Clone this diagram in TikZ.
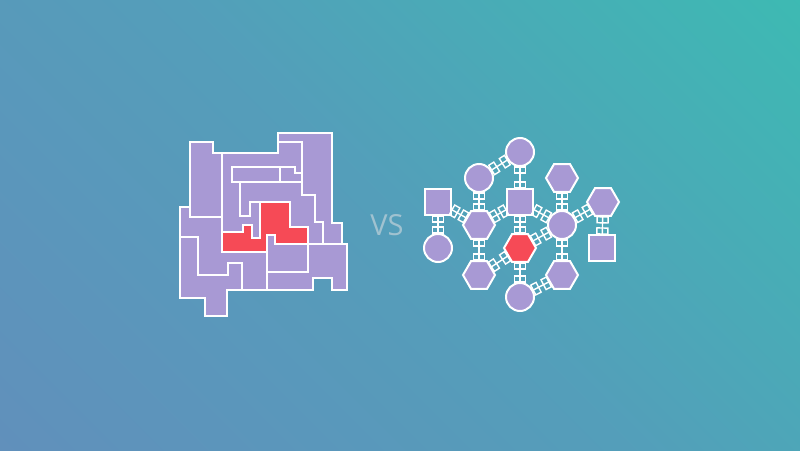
\documentclass[tikz,border=0pt]{standalone}
\usepackage{fontspec}
\setsansfont{Open Sans}
\usetikzlibrary{shapes.geometric}

\definecolor{bgdeep}{RGB}{102,138,188}
\definecolor{bgmid}{RGB}{84,158,186}
\definecolor{bgteal}{RGB}{52,197,176}
\definecolor{lilac}{RGB}{168,153,212}
\definecolor{hot}{RGB}{246,74,86}
\definecolor{vsgrey}{RGB}{160,194,208}

\pgfdeclareverticalshading{backdrop}{100bp}{color(0bp)=(bgdeep); color(50bp)=(bgmid); color(100bp)=(bgteal)}

\tikzset{
  piece/.style={fill=lilac, draw=white, line width=2pt, line join=miter},
  cell/.style={fill=lilac, draw=white, line width=2pt, inner sep=0pt},
  round/.style={cell, circle, minimum size=28pt},
  box/.style={cell, rectangle, minimum size=26pt},
  hexa/.style={cell, regular polygon, regular polygon sides=6, minimum size=32pt},
  link/.style={draw=white, line width=1.4pt},
  port/.style={draw=white, line width=1.4pt, rectangle, minimum width=6pt,
    minimum height=11pt, inner sep=0pt, outer sep=0pt, sloped, allow upside down}
}

\begin{document}
\begin{tikzpicture}[x=1pt,y=-1pt]
  \shade[shading=backdrop, shading angle=-45] (0,0) rectangle (800,450);
  \useasboundingbox (0,0) rectangle (800,450);

  % the tangled block
  \draw[piece] (190,142) -- (213,142) -- (213,153) -- (222,153) -- (222,217) -- (190,217) -- cycle;
  \draw[piece] (278,133) -- (332,133) -- (332,223) -- (342,223) -- (342,244) -- (323,244) -- (323,222)
    -- (315,222) -- (315,195) -- (302,195) -- (302,142) -- (278,142) -- cycle;
  \draw[piece] (222,153) -- (278,153) -- (278,142) -- (302,142) -- (302,173) -- (295,173) -- (295,167)
    -- (232,167) -- (232,182) -- (240,182) -- (240,216) -- (250,216) -- (250,202) -- (260,202)
    -- (260,238) -- (252,238) -- (252,225) -- (243,225) -- (243,232) -- (222,232) -- cycle;
  \draw[piece] (232,167) -- (280,167) -- (280,182) -- (232,182) -- cycle;
  \draw[piece] (280,167) -- (295,167) -- (295,173) -- (302,173) -- (302,182) -- (280,182) -- cycle;
  \draw[piece] (240,182) -- (302,182) -- (302,195) -- (315,195) -- (315,222) -- (323,222) -- (323,244)
    -- (308,244) -- (308,227) -- (290,227) -- (290,202) -- (250,202) -- (250,216) -- (240,216) -- cycle;
  \draw[piece] (180,207) -- (190,207) -- (190,217) -- (222,217) -- (222,252) -- (267,252) -- (267,290)
    -- (242,290) -- (242,263) -- (228,263) -- (228,275) -- (198,275) -- (198,237) -- (180,237) -- cycle;
  \draw[piece] (180,237) -- (198,237) -- (198,275) -- (228,275) -- (228,263) -- (242,263) -- (242,290)
    -- (227,290) -- (227,316) -- (205,316) -- (205,298) -- (180,298) -- cycle;
  \draw[piece] (267,235) -- (275,235) -- (275,244) -- (308,244) -- (308,272) -- (267,272) -- cycle;
  \draw[piece] (308,244) -- (347,244) -- (347,290) -- (332,290) -- (332,278) -- (313,278) -- (313,290)
    -- (267,290) -- (267,272) -- (308,272) -- cycle;
  \draw[piece, fill=hot] (222,232) -- (243,232) -- (243,225) -- (252,225) -- (252,238) -- (260,238)
    -- (260,202) -- (290,202) -- (290,227) -- (308,227) -- (308,244) -- (275,244) -- (275,235)
    -- (267,235) -- (267,252) -- (222,252) -- cycle;

  \node[text=vsgrey, font=\sffamily\fontsize{29}{29}\selectfont] (vs) at (387,225) {VS};

  % the service graph
  \node[round] (c1) at (520,152) {};
  \node[round] (c2) at (479,178) {};
  \node[hexa]  (h1) at (562,178) {};
  \node[box]   (s1) at (438,202) {};
  \node[box]   (s2) at (520,202) {};
  \node[hexa]  (h2) at (603,202) {};
  \node[hexa]  (h3) at (479,225) {};
  \node[round] (c3) at (562,225) {};
  \node[hexa, fill=hot] (hr) at (520,248) {};
  \node[round] (c4) at (438,248) {};
  \node[box]   (s3) at (602,248) {};
  \node[hexa]  (h4) at (479,275) {};
  \node[hexa]  (h5) at (562,275) {};
  \node[round] (c5) at (520,297) {};

  \foreach \a/\b in {c1/c2, c1/s2, c2/h3, s1/h3, s1/c4, h3/s2, s2/hr, s2/c3, h1/c3,
                     c3/h2, h2/s3, hr/c3, h3/h4, h4/hr, hr/c5, c5/h5, c3/h5}
    \draw[link] (\a) -- node[port, pos=0, anchor=west] {} node[port, pos=1, anchor=east] {} (\b);
\end{tikzpicture}
\end{document}
